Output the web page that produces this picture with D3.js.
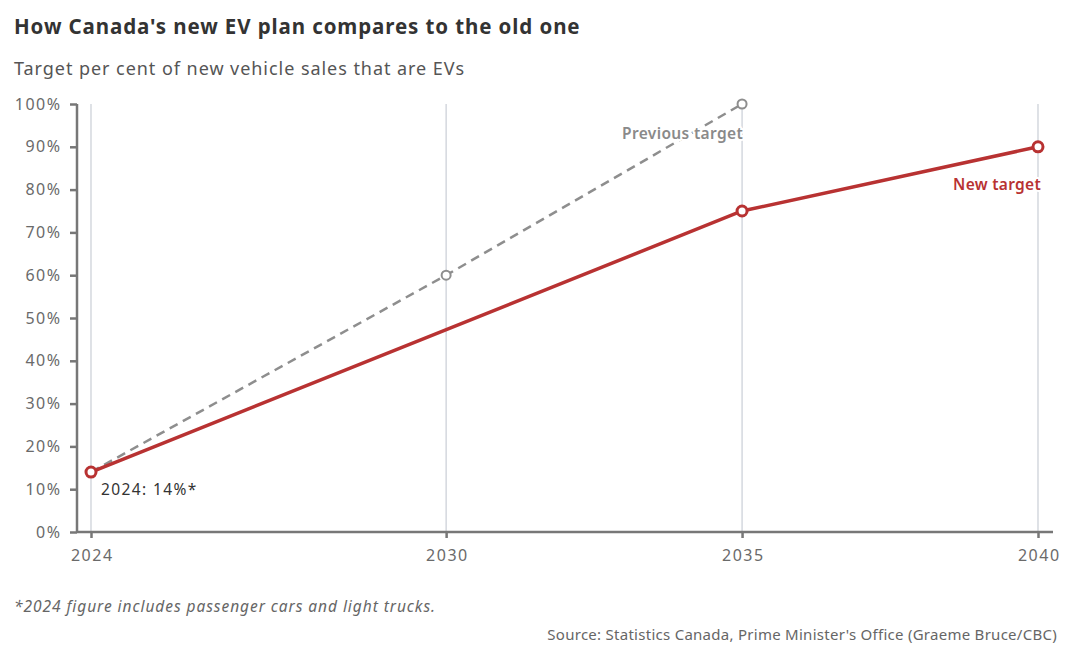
<!DOCTYPE html>
<html><head><meta charset="utf-8">
<script src="https://cdn.jsdelivr.net/npm/d3@7"></script>
<style>
body{margin:0;background:#fff;}
svg{display:block;font-family:"Noto Sans",sans-serif;}
</style></head>
<body>
<svg id="c" width="1080" height="659"></svg>
<script>
const years = [2024, 2030, 2035, 2040];
const yTicks = [0,10,20,30,40,50,60,70,80,90,100];
const newYears = [2024, 2035, 2040];
const newValues = [14, 75, 90];
const prevYears = [2024, 2030, 2035];
const prevValues = [14, 60, 100];

const FONT = "'Noto Sans',sans-serif";
const svg = d3.select("#c");
const m = {l:77, r:1053, t:104, b:532};
const x = d3.scaleLinear().domain([2024,2040]).range([91,1038]);
const y = d3.scaleLinear().domain([0,100]).range([m.b,m.t]);

svg.append("text").attr("x",14).attr("y",34).attr("font-size",20.5).attr("font-weight",700)
  .attr("letter-spacing",0.9).attr("fill","#333").text("How Canada's new EV plan compares to the old one");
svg.append("text").attr("x",14).attr("y",75).attr("font-size",18).attr("letter-spacing",0.95)
  .attr("fill","#555").text("Target per cent of new vehicle sales that are EVs");

svg.append("g").selectAll("line").data(years).join("line")
  .attr("x1",d=>x(d)).attr("x2",d=>x(d)).attr("y1",m.t).attr("y2",m.b)
  .attr("stroke","#c9ced6").attr("stroke-width",1.2);

const ya = svg.append("g").attr("transform",`translate(${m.l},0)`)
  .call(d3.axisLeft(y).tickValues(yTicks).tickSize(7).tickPadding(10).tickFormat(d=>d+"%"));
ya.select(".domain").attr("stroke","#777").attr("stroke-width",2.5).attr("d",`M0,${m.t}V${m.b}`);
ya.selectAll(".tick line").attr("stroke","#777").attr("stroke-width",2.5);
ya.selectAll(".tick text").attr("fill","#6a6a6a").attr("font-size",16).attr("letter-spacing",1.5)
  .attr("text-anchor","end").attr("font-family",FONT).attr("dx",1.5);

const xa = svg.append("g").attr("transform",`translate(0,${m.b})`)
  .call(d3.axisBottom(x).tickValues(years).tickSize(6).tickPadding(12).tickFormat(d3.format("d")));
xa.select(".domain").attr("stroke","#777").attr("stroke-width",2.5).attr("d",`M${m.l},0H${m.r}`);
xa.selectAll(".tick line").attr("stroke","#777").attr("stroke-width",2.5);
xa.selectAll(".tick text").attr("fill","#6a6a6a").attr("font-size",16).attr("letter-spacing",1.5)
  .attr("dx",0.75).attr("font-family",FONT);

const line = d3.line().x(d=>x(d[0])).y(d=>y(d[1]));
const prev = prevYears.map((d,i)=>[d,prevValues[i]]);
const nw = newYears.map((d,i)=>[d,newValues[i]]);

svg.append("path").datum(prev).attr("d",line).attr("fill","none")
  .attr("stroke","#8e8e8e").attr("stroke-width",2.5).attr("stroke-dasharray","9,6");
svg.append("g").selectAll("circle").data(prev.slice(1)).join("circle")
  .attr("cx",d=>x(d[0])).attr("cy",d=>y(d[1])).attr("r",4.5)
  .attr("fill","#fff").attr("stroke","#8e8e8e").attr("stroke-width",2);

svg.append("path").datum(nw).attr("d",line).attr("fill","none")
  .attr("stroke","#b83232").attr("stroke-width",3.5);
svg.append("g").selectAll("circle").data(nw).join("circle")
  .attr("cx",d=>x(d[0])).attr("cy",d=>y(d[1])).attr("r",5)
  .attr("fill","#fff").attr("stroke","#b83232").attr("stroke-width",3);

function label(t, px, py, anchor, col, weight, ls){
  const g = svg.append("g");
  [true,false].forEach(halo=>{
    const tx = g.append("text").attr("x",px).attr("y",py).attr("text-anchor",anchor).attr("font-size",15.5)
     .attr("font-weight",weight).attr("letter-spacing",ls).attr("fill",halo?"#fff":col).text(t);
    if(halo) tx.attr("stroke","#fff").attr("stroke-width",4).attr("stroke-linejoin","round");
  });
}
label("Previous target", x(2035)+1, 139, "end", "#8a8a8a", 600, 0.35);
label("New target", x(2040)+3, 190, "end", "#b83232", 600, 0.3);
label("2024: 14%*", x(2024)+10, 495, "start", "#333", 400, 1.4);

svg.append("text").attr("x",14).attr("y",612).attr("font-size",15.5).attr("font-style","italic")
  .attr("letter-spacing",0.95).attr("fill","#666").text("*2024 figure includes passenger cars and light trucks.");
svg.append("text").attr("x",1057).attr("y",640).attr("font-size",15).attr("text-anchor","end")
  .attr("letter-spacing",0.27).attr("fill","#666").text("Source: Statistics Canada, Prime Minister's Office (Graeme Bruce/CBC)");
</script>
</body></html>
